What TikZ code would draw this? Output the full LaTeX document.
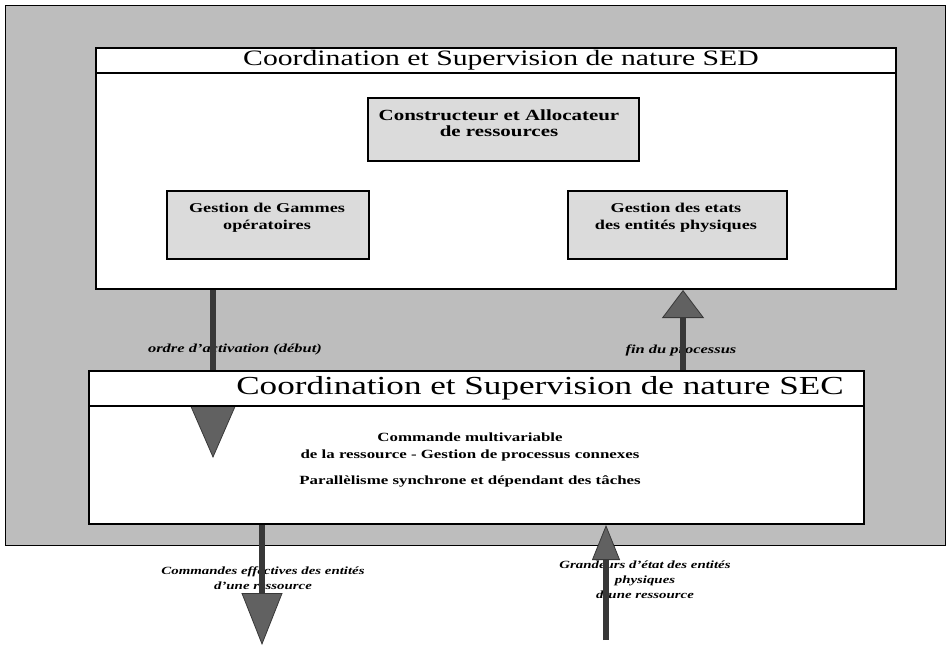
\documentclass[tikz,border=0pt]{standalone}
\usepackage{fontspec}
\setmainfont{Liberation Serif}[FakeStretch=1.35]
\usetikzlibrary{arrows.meta}
\definecolor{framegray}{gray}{0.74}
\definecolor{boxgray}{gray}{0.86}
\definecolor{shaftdark}{gray}{0.22}
\definecolor{headgray}{gray}{0.38}
\begin{document}
\begin{tikzpicture}[x=1pt,y=-1pt,
  panel/.style={draw, line width=2pt, fill=white, anchor=north west, inner sep=0pt},
  band/.style={draw, line width=2pt, fill=white, anchor=north west, inner sep=0pt, minimum width=#1},
  subbox/.style={draw, line width=1.8pt, fill=boxgray, anchor=north west, inner sep=0pt},
  boxtext/.style={font=\bfseries\fontsize{13.5}{17}\selectfont, align=center, inner sep=0pt},
  shaft/.style={draw=shaftdark, line width=6.5pt},
  flowlabel/.style={font=\bfseries\itshape\fontsize{12.2}{15}\selectfont, inner sep=0pt},
  iolabel/.style={font=\bfseries\itshape\fontsize{11}{15}\selectfont, align=center, inner sep=0pt}
]
\useasboundingbox (0,0) rectangle (947,651);

% shaded frame holding both levels
\node[draw, line width=1.4pt, fill=framegray, anchor=north west, inner sep=0pt,
      minimum width=940pt, minimum height=540pt] (frame) at (5,5) {};

% upper level: SED
\node[panel, minimum width=800pt, minimum height=241pt] (sed) at (95,47) {};
\node[band=800pt, minimum height=25pt] (sedtitle) at (95,47) {};
\node[inner sep=0pt, font=\fontsize{22}{26}\selectfont] (sedT) at (501,60) {Coordination et Supervision de nature SED};

\node[subbox, minimum width=271pt, minimum height=63pt] (cons) at (367,97) {};
\node[boxtext, font=\bfseries\fontsize{15.5}{16}\selectfont] (consT) at (499,123) {Constructeur et Allocateur\\de ressources};

\node[subbox, minimum width=202pt, minimum height=68pt] (gam) at (166,190) {};
\node[boxtext] (gamT) at (267,218) {Gestion de Gammes\\op\'eratoires};

\node[subbox, minimum width=219pt, minimum height=68pt] (eta) at (567,190) {};
\node[boxtext] (etaT) at (676,218) {Gestion des etats\\des entit\'es physiques};

% lower level: SEC
\node[panel, minimum width=775pt, minimum height=153pt] (sec) at (88,370) {};
\node[boxtext, font=\bfseries\fontsize{12.5}{17}\selectfont] (secA) at (470,447) {Commande multivariable\\de la ressource - Gestion de processus connexes};
\node[boxtext, font=\bfseries\fontsize{12.5}{17}\selectfont] (secB) at (470,481) {Parall\`elisme synchrone et d\'ependant des t\^aches};

% labels of the exchanges
\node[flowlabel] (ordre) at (235,350) {ordre d'activation (d\'ebut)};
\node[flowlabel] (fin) at (681,350) {fin du processus};
\node[iolabel] (cmd) at (263,578) {Commandes effectives des entit\'es\\d'une ressource};
\node[iolabel] (gdr) at (645,580) {Grandeurs d'\'etat des entit\'es\\physiques\\d'une ressource};

% exchange arrows
\coordinate (a1) at (213,458);
\coordinate (a2) at (683,290);
\coordinate (a3) at (262,645);
\coordinate (a4) at (606,640);

\draw[shaft, -{Triangle[width=46pt,length=53pt,line width=0.8pt,fill=headgray]}] (sed.south -| a1) -- (a1);
\node[band=775pt, minimum height=35pt] (sectitle) at (88,370) {};
\node[inner sep=0pt, font=\fontsize{26}{30}\selectfont] (secT) at (540,388) {Coordination et Supervision de nature SEC};

\draw[shaft, -{Triangle[width=42pt,length=28pt,line width=0.8pt,fill=headgray]}] (sec.north -| a2) -- (a2);
\draw[shaft, -{Triangle[width=41pt,length=52pt,line width=0.8pt,fill=headgray]}] (sec.south -| a3) -- (a3);
\draw[shaft, -{Triangle[width=28pt,length=35pt,line width=0.8pt,fill=headgray]}] (a4) -- (sec.south -| a4);
\end{tikzpicture}
\end{document}
